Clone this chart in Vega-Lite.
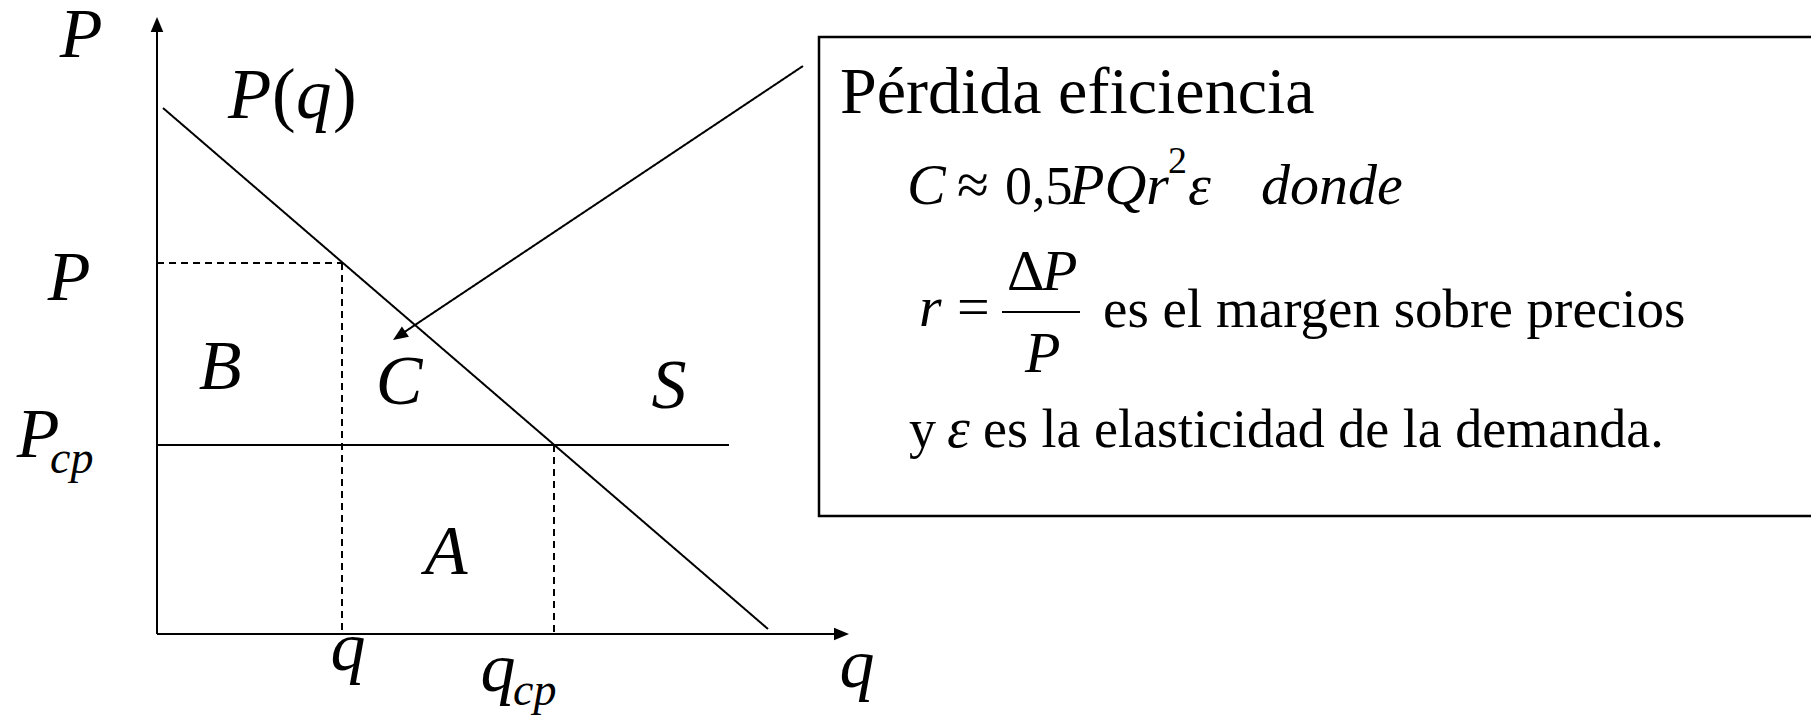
{
  "$schema": "https://vega.github.io/schema/vega-lite/v6.json",
  "width": 1811,
  "height": 717,
  "autosize": {"type": "none"},
  "padding": 0,
  "background": "white",
  "config": {"view": {"stroke": null}, "text": {"font": "Liberation Serif, Times New Roman, DejaVu Serif, serif"}},
  "encoding": {
    "x": {"field": "q", "type": "quantitative", "scale": {"domain": [-157, 1654], "nice": false, "zero": false}, "axis": null},
    "y": {"field": "p", "type": "quantitative", "scale": {"domain": [-83, 634], "nice": false, "zero": false}, "axis": null}
  },
  "layer": [
    {
      "data": {"values": [{"name": "box", "q": 662, "p": 597, "q2": 1720, "p2": 118}]},
      "mark": {"type": "rect", "fill": "white", "stroke": "black", "strokeWidth": 2.5},
      "encoding": {"x2": {"field": "q2"}, "y2": {"field": "p2"}}
    },
    {
      "data": {"values": [
        {"seg": "P axis", "q": 0, "p": 0, "q2": 0, "p2": 605, "kind": "solid"},
        {"seg": "q axis", "q": 0, "p": 0, "q2": 680, "p2": 0, "kind": "solid"},
        {"seg": "demand P(q)", "q": 6, "p": 526, "q2": 611, "p2": 5, "kind": "solid"},
        {"seg": "supply S", "q": 0, "p": 189, "q2": 572, "p2": 189, "kind": "solid"},
        {"seg": "pointer to C", "q": 646, "p": 568, "q2": 246, "p2": 301, "kind": "solid"},
        {"seg": "fraction bar", "q": 845, "p": 322, "q2": 923, "p2": 322, "kind": "solid"},
        {"seg": "P level", "q": 0, "p": 371, "q2": 185, "p2": 371, "kind": "dashed"},
        {"seg": "q level", "q": 185, "p": 371, "q2": 185, "p2": 0, "kind": "dashed"},
        {"seg": "qcp level", "q": 397, "p": 189, "q2": 397, "p2": 0, "kind": "dashed"}
      ]},
      "mark": {"type": "rule", "color": "black", "strokeWidth": 2},
      "encoding": {
        "x2": {"field": "q2"},
        "y2": {"field": "p2"},
        "strokeDash": {"field": "kind", "type": "nominal", "scale": {"domain": ["solid", "dashed"], "range": [[1, 0], [7, 5]]}, "legend": null}
      }
    },
    {
      "data": {"values": [{"head": "P axis", "q": 0, "p": 617}]},
      "mark": {"type": "point", "shape": "M0,0L-0.42,1L0.42,1Z", "size": 900, "filled": true, "color": "black", "opacity": 1, "strokeWidth": 0, "angle": 0}
    },
    {
      "data": {"values": [{"head": "q axis", "q": 692, "p": 0}]},
      "mark": {"type": "point", "shape": "M0,0L-0.42,1L0.42,1Z", "size": 900, "filled": true, "color": "black", "opacity": 1, "strokeWidth": 0, "angle": 90}
    },
    {
      "data": {"values": [{"head": "pointer", "q": 236, "p": 294}]},
      "mark": {"type": "point", "shape": "M0,0L-0.42,1L0.42,1Z", "size": 900, "filled": true, "color": "black", "opacity": 1, "strokeWidth": 0, "angle": 236}
    },
    {
      "data": {"values": [
        {"t": "P", "q": -76, "p": 577},
        {"t": "P", "q": -88, "p": 334},
        {"t": "P", "q": -119, "p": 177},
        {"t": "B", "q": 63, "p": 245},
        {"t": "C", "q": 242, "p": 230},
        {"t": "S", "q": 512, "p": 226},
        {"t": "A", "q": 289, "p": 60},
        {"t": "q", "q": 191, "p": -36},
        {"t": "q", "q": 341, "p": -57},
        {"t": "q", "q": 700, "p": -53}
      ]},
      "mark": {"type": "text", "fontStyle": "italic", "fontSize": 70, "align": "center", "baseline": "alphabetic", "color": "black"},
      "encoding": {"text": {"field": "t"}}
    },
    {
      "data": {"values": [
        {"t": "P", "q": 71, "p": 516},
        {"t": "q", "q": 139, "p": 516}
      ]},
      "mark": {"type": "text", "fontStyle": "italic", "fontSize": 71, "align": "left", "baseline": "alphabetic", "color": "black"},
      "encoding": {"text": {"field": "t"}}
    },
    {
      "data": {"values": [
        {"t": "(", "q": 115, "p": 516},
        {"t": ")", "q": 176, "p": 516}
      ]},
      "mark": {"type": "text", "fontSize": 71, "align": "left", "baseline": "alphabetic", "color": "black"},
      "encoding": {"text": {"field": "t"}}
    },
    {
      "data": {"values": [
        {"t": "cp", "q": -107, "p": 161},
        {"t": "cp", "q": 356, "p": -71}
      ]},
      "mark": {"type": "text", "fontStyle": "italic", "fontSize": 46, "align": "left", "baseline": "alphabetic", "color": "black"},
      "encoding": {"text": {"field": "t"}}
    },
    {
      "data": {"values": [{"t": "Pérdida eficiencia", "q": 683, "p": 521}]},
      "mark": {"type": "text", "fontSize": 66, "align": "left", "baseline": "alphabetic", "color": "black"},
      "encoding": {"text": {"field": "t"}}
    },
    {
      "data": {"values": [
        {"t": "C", "q": 750, "p": 430},
        {"t": "PQr", "q": 912, "p": 430},
        {"t": "ε", "q": 1031, "p": 430},
        {"t": "donde", "q": 1104, "p": 430},
        {"t": "r", "q": 762, "p": 308},
        {"t": "P", "q": 885, "p": 344},
        {"t": "P", "q": 868, "p": 262},
        {"t": "ε", "q": 790, "p": 187}
      ]},
      "mark": {"type": "text", "fontStyle": "italic", "fontSize": 58, "align": "left", "baseline": "alphabetic", "color": "black"},
      "encoding": {"text": {"field": "t"}}
    },
    {
      "data": {"values": [
        {"t": "≈", "q": 800, "p": 430},
        {"t": "=", "q": 800, "p": 308},
        {"t": "Δ", "q": 850, "p": 344}
      ]},
      "mark": {"type": "text", "fontSize": 58, "align": "left", "baseline": "alphabetic", "color": "black"},
      "encoding": {"text": {"field": "t"}}
    },
    {
      "data": {"values": [{"t": "0,5", "q": 848, "p": 430}]},
      "mark": {"type": "text", "fontSize": 54, "align": "left", "baseline": "alphabetic", "color": "black"},
      "encoding": {"text": {"field": "t"}}
    },
    {
      "data": {"values": [{"t": "2", "q": 1011, "p": 461}]},
      "mark": {"type": "text", "fontSize": 38, "align": "left", "baseline": "alphabetic", "color": "black"},
      "encoding": {"text": {"field": "t"}}
    },
    {
      "data": {"values": [
        {"t": "es el margen sobre precios", "q": 946, "p": 307}
      ]},
      "mark": {"type": "text", "fontSize": 55, "align": "left", "baseline": "alphabetic", "color": "black"},
      "encoding": {"text": {"field": "t"}}
    },
    {
      "data": {"values": [
        {"t": "y", "q": 752, "p": 187},
        {"t": "es la elasticidad de la demanda.", "q": 826, "p": 187}
      ]},
      "mark": {"type": "text", "fontSize": 54, "align": "left", "baseline": "alphabetic", "color": "black"},
      "encoding": {"text": {"field": "t"}}
    }
  ]
}
